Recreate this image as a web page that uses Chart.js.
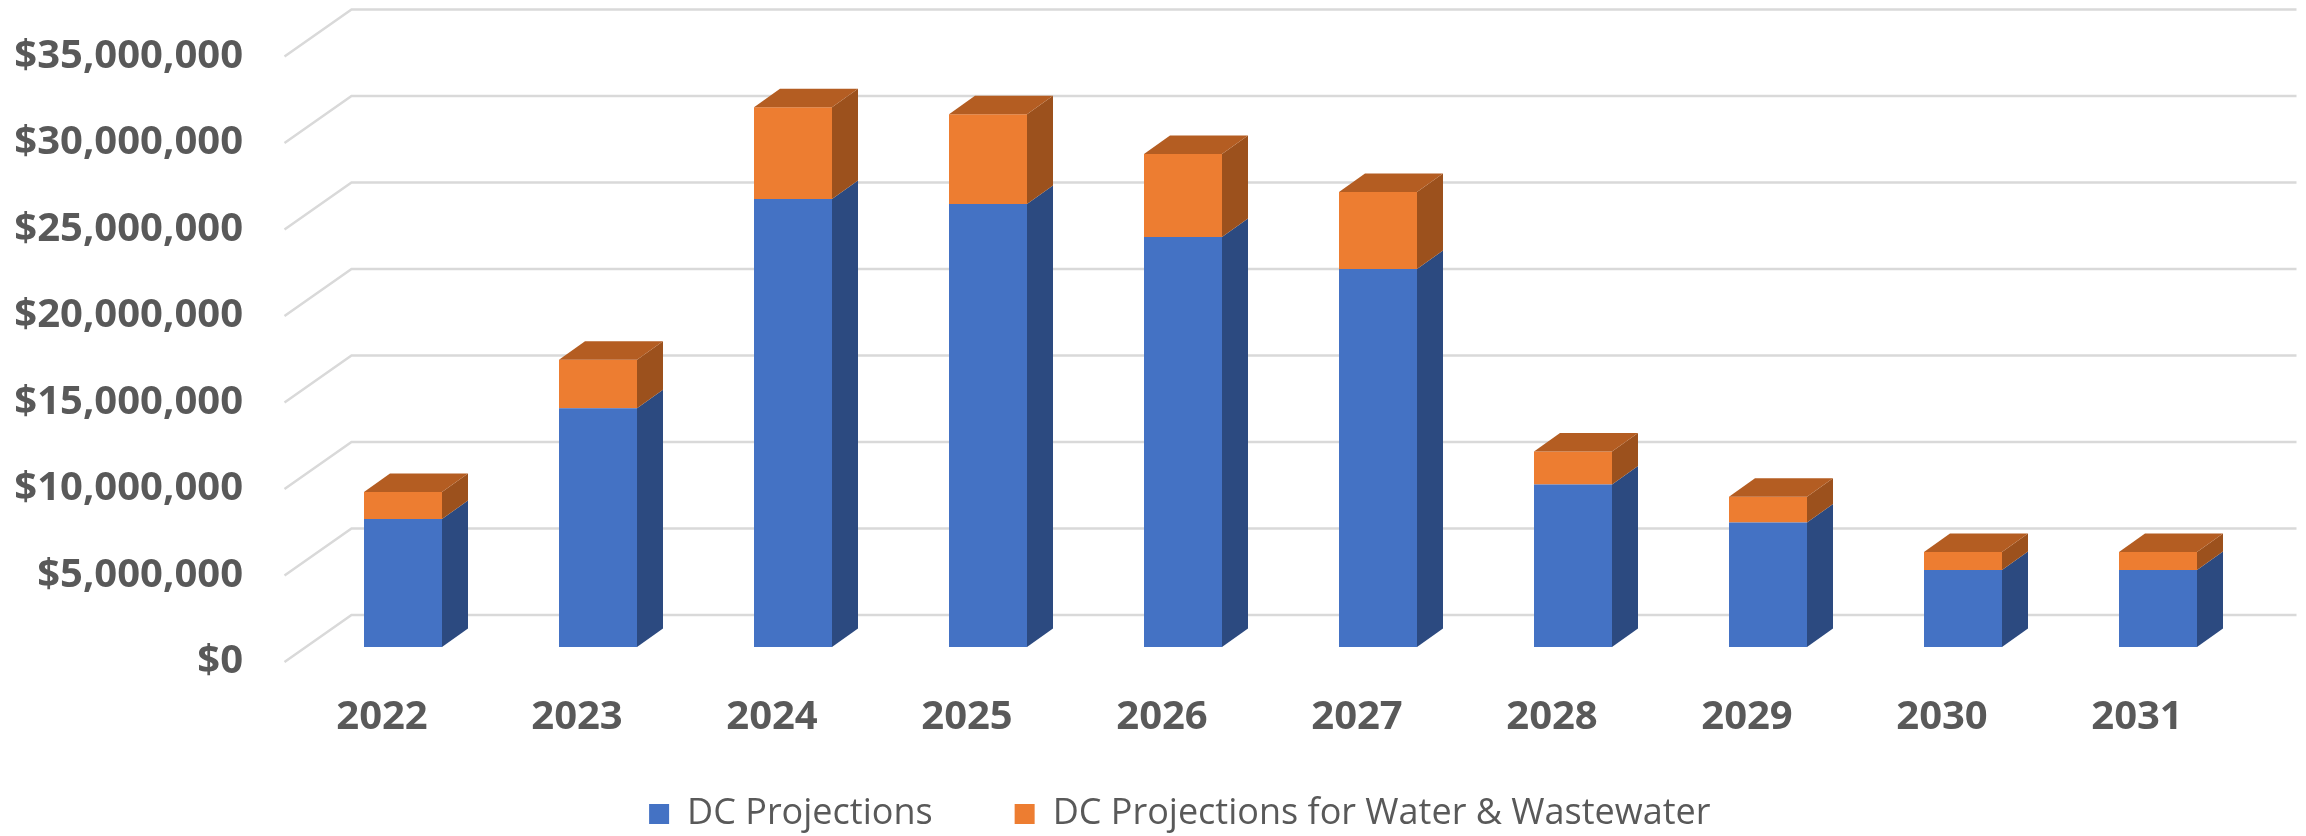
<!DOCTYPE html>
<html>
<head>
<meta charset="utf-8">
<title>DC Projections</title>
<script src="https://cdn.jsdelivr.net/npm/chart.js@4.4.1/dist/chart.umd.min.js"></script>
<style>
  html, body { margin: 0; padding: 0; background: #fff; }
  #wrap { width: 2306px; height: 836px; position: relative; }
</style>
</head>
<body>
<div id="wrap"><canvas id="chart"></canvas></div>
<script>
// --- data ---
const years = ['2022', '2023', '2024', '2025', '2026', '2027', '2028', '2029', '2030', '2031'];
const dcProjections = [7400000, 13800000, 25900000, 25600000, 23700000, 21850000, 9400000, 7200000, 4450000, 4450000];
const waterWastewater = [1560000, 2800000, 5300000, 5200000, 4800000, 4450000, 1900000, 1490000, 1040000, 1040000];
const yTicks = [0, 5000000, 10000000, 15000000, 20000000, 25000000, 30000000, 35000000];

// 3D look: offsets of the floor front edge, back wall and bar depth from the bar plane
const FRONT = { dx: -21, dy: 15 };
const BACK = { dx: 46, dy: -32 };
const BAR_DEPTH = { dx: 26, dy: -18.5 };
const GRID_COLOR = '#d9d9d9';
const TEXT_COLOR = '#595959';

const faces = [
  { side: '#2c4a80', top: '#30528c' },
  { side: '#9c511d', top: '#b45d22' }
];

const money = v => '$' + Math.round(v).toLocaleString('en-US');

// walls: diagonal from front edge to back wall, then along the back wall
const wallPlugin = {
  id: 'wall3d',
  beforeDatasetsDraw(chart) {
    const { ctx, chartArea, scales: { y } } = chart;
    ctx.save();
    ctx.strokeStyle = GRID_COLOR;
    ctx.lineWidth = 2.5;
    yTicks.forEach(v => {
      const py = y.getPixelForValue(v);
      ctx.beginPath();
      ctx.moveTo(chartArea.left + FRONT.dx, py + FRONT.dy);
      ctx.lineTo(chartArea.left + BACK.dx, py + BACK.dy);
      ctx.lineTo(chartArea.right + 41, py + BACK.dy);
      ctx.stroke();
    });
    ctx.restore();
  }
};

// side and top faces of each stacked bar
const barPlugin = {
  id: 'bar3d',
  afterDatasetsDraw(chart) {
    const { ctx } = chart;
    const last = chart.data.datasets.length - 1;
    ctx.save();
    chart.data.datasets.forEach((ds, di) => {
      const meta = chart.getDatasetMeta(di);
      meta.data.forEach(bar => {
        const { x, y, base, width } = bar.getProps(['x', 'y', 'base', 'width'], true);
        const l = x - width / 2, r = x + width / 2;
        ctx.fillStyle = faces[di].side;
        ctx.beginPath();
        ctx.moveTo(r, y);
        ctx.lineTo(r + BAR_DEPTH.dx, y + BAR_DEPTH.dy);
        ctx.lineTo(r + BAR_DEPTH.dx, base + BAR_DEPTH.dy);
        ctx.lineTo(r, base);
        ctx.closePath();
        ctx.fill();
        if (di === last) {
          ctx.fillStyle = faces[di].top;
          ctx.beginPath();
          ctx.moveTo(l, y);
          ctx.lineTo(l + BAR_DEPTH.dx, y + BAR_DEPTH.dy);
          ctx.lineTo(r + BAR_DEPTH.dx, y + BAR_DEPTH.dy);
          ctx.lineTo(r, y);
          ctx.closePath();
          ctx.fill();
        }
      });
    });
    ctx.restore();
  }
};

// legend sits under the axis labels, centred a bit right of the canvas centre
const legendPlugin = {
  id: 'legendPlace',
  afterLayout(chart) {
    const lg = chart.legend;
    const h = lg.bottom - lg.top;
    lg.top = chart.chartArea.bottom + 67;
    lg.bottom = lg.top + h;
    lg.left = 104;
  }
};

const noPad = s => { s.paddingTop = 0; s.paddingBottom = 0; s.paddingLeft = 0; s.paddingRight = 0; };
const tickFont = { family: 'Open Sans', size: 40, weight: 'bold' };

new Chart(document.getElementById('chart'), {
  type: 'bar',
  data: {
    labels: years,
    datasets: [
      { label: 'DC Projections', data: dcProjections, backgroundColor: '#4472c4', borderWidth: 0 },
      { label: 'DC Projections for Water & Wastewater', data: waterWastewater, backgroundColor: '#ed7d31', borderWidth: 0 }
    ]
  },
  options: {
    responsive: true,
    maintainAspectRatio: false,
    animation: false,
    categoryPercentage: 0.4,
    barPercentage: 1.0,
    layout: { padding: { left: 0, right: 50.5, top: 41.5, bottom: -33.5 } },
    scales: {
      x: {
        stacked: true,
        grid: { display: false, drawTicks: false },
        border: { display: false },
        ticks: { color: TEXT_COLOR, font: tickFont, padding: 46.5, labelOffset: FRONT.dx, maxRotation: 0 },
        afterFit: s => { s.height = 94.5; noPad(s); }
      },
      y: {
        stacked: true,
        min: 0,
        max: 35000000,
        grid: { display: false, drawTicks: false },
        border: { display: false },
        ticks: {
          stepSize: 5000000,
          color: TEXT_COLOR,
          font: tickFont,
          padding: 62.5,
          labelOffset: FRONT.dy,
          callback: v => money(v)
        },
        afterFit: s => { s.width = 305.5; noPad(s); }
      }
    },
    plugins: {
      legend: {
        position: 'bottom',
        labels: {
          boxWidth: 20,
          boxHeight: 20,
          padding: 82,
          color: TEXT_COLOR,
          font: { family: 'Open Sans', size: 36 }
        }
      },
      tooltip: { enabled: false }
    }
  },
  plugins: [wallPlugin, barPlugin, legendPlugin]
});
</script>
</body>
</html>
